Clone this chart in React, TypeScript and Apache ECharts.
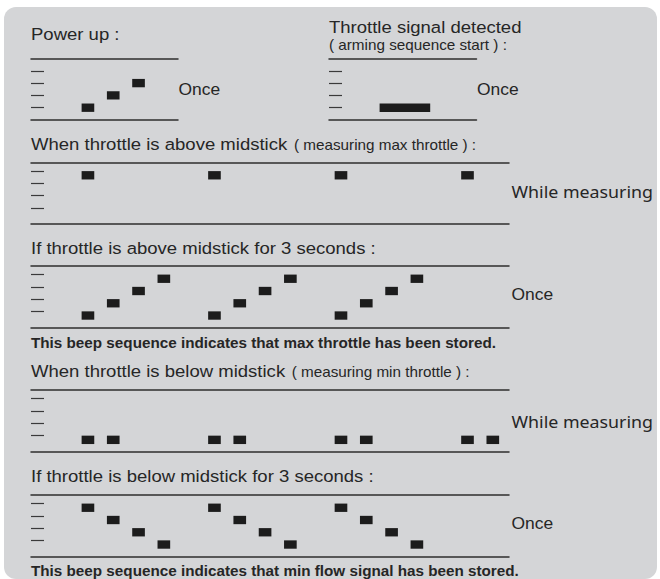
import React, { useEffect, useRef } from "react";
import * as echarts from "echarts";

// ---- Data: beeps as [start slot, end slot, pitch level] ----
const powerUpBeeps = [
  [2, 2.5, 1],
  [3, 3.5, 2],
  [4, 4.5, 3],
];
const armingBeeps = [[2, 4, 1]];
const maxMeasuringBeeps = [
  [2, 2.5, 4],
  [7, 7.5, 4],
  [12, 12.5, 4],
  [17, 17.5, 4],
];
const maxStoredBeeps = [
  [2, 2.5, 1], [3, 3.5, 2], [4, 4.5, 3], [5, 5.5, 4],
  [7, 7.5, 1], [8, 8.5, 2], [9, 9.5, 3], [10, 10.5, 4],
  [12, 12.5, 1], [13, 13.5, 2], [14, 14.5, 3], [15, 15.5, 4],
];
const minMeasuringBeeps = [
  [2, 2.5, 1], [3, 3.5, 1],
  [7, 7.5, 1], [8, 8.5, 1],
  [12, 12.5, 1], [13, 13.5, 1],
  [17, 17.5, 1], [18, 18.5, 1],
];
const minStoredBeeps = [
  [2, 2.5, 4], [3, 3.5, 3], [4, 4.5, 2], [5, 5.5, 1],
  [7, 7.5, 4], [8, 8.5, 3], [9, 9.5, 2], [10, 10.5, 1],
  [12, 12.5, 4], [13, 13.5, 3], [14, 14.5, 2], [15, 15.5, 1],
];
const pitchLevels = [1, 2, 3, 4];

const titleTexts = [
  "Power up :",
  "Throttle signal detected",
  "When throttle is above midstick",
  "If throttle is above midstick for 3 seconds :",
  "When throttle is below midstick",
  "If throttle is below midstick for 3 seconds :",
];
const noteTexts = [
  "( arming sequence start ) :",
  "( measuring max throttle ) :",
  "( measuring min throttle ) :",
];
const boldTexts = [
  "This beep sequence indicates that max throttle has been stored.",
  "This beep sequence indicates that min flow signal has been stored.",
];
const repeatTexts = ["Once", "Once", "While measuring", "Once", "While measuring", "Once"];

// ---- Layout ----
const TEXT_COLOR = "#262626";
const LINE_COLOR = "#2e2e2e";
const BEEP_COLOR = "#1c1c1c";
const SX = 1.09;
const MAIN_FONT = "'Liberation Sans', Arial, sans-serif";

const panels = [
  { left: 31, top: 58.5, width: 147, height: 61.5, xMax: 5.81, yMin: 0, yMax: 5, beepTop: 0.34, data: powerUpBeeps },
  { left: 329, top: 58.5, width: 147.5, height: 61.5, xMax: 5.83, yMin: 0, yMax: 5, beepTop: 0.34, data: armingBeeps },
  { left: 31, top: 162.5, width: 478, height: 61.5, xMax: 18.89, yMin: -0.3, yMax: 4.7, beepTop: 0, data: maxMeasuringBeeps },
  { left: 31, top: 266, height: 61.3, width: 478, xMax: 18.89, yMin: -0.3, yMax: 4.7, beepTop: 0, data: maxStoredBeeps },
  { left: 31, top: 390, height: 61.7, width: 478, xMax: 18.89, yMin: -0.3, yMax: 4.7, beepTop: 0, data: minMeasuringBeeps },
  { left: 31, top: 495, height: 61.3, width: 478, xMax: 18.89, yMin: -0.3, yMax: 4.7, beepTop: 0, data: minStoredBeeps },
];
const BEEP_H = 0.68;

const titlePos = [
  [31, 34.2], [329, 27], [31, 144.5], [31, 248.2], [31, 371.3], [31, 476.7],
];
const notePos = [
  [329, 44.8], [294, 145.6], [291.7, 372.4],
];
const boldPos = [[31, 343.3], [31, 571.7]];
const repeatPos = [
  [178.5, 89.5], [477, 89.5], [511.5, 192], [511.5, 294.5], [511.5, 422], [511.5, 524],
];

function txt(text: string, x: number, y: number, fontSize: number, opts: any = {}) {
  return {
    type: "text",
    x,
    y,
    scaleX: opts.scaleX ?? SX,
    z: 10,
    style: {
      text,
      fontSize,
      fontFamily: opts.fontFamily ?? MAIN_FONT,
      fontWeight: opts.fontWeight ?? "normal",
      fill: TEXT_COLOR,
      verticalAlign: "middle",
      align: "left",
    },
  };
}

export default function App() {
  const ref = useRef<HTMLDivElement>(null);
  useEffect(() => {
    if (!ref.current) return;
    const chart = echarts.init(ref.current, undefined, { renderer: "svg" });

    const grid: any[] = [];
    const xAxis: any[] = [];
    const yAxis: any[] = [];
    const series: any[] = [];

    panels.forEach((p, i) => {
      grid.push({ left: p.left, top: p.top, width: p.width, height: p.height, containLabel: false });
      const baseX = {
        gridIndex: i,
        type: "value",
        min: 0,
        max: p.xMax,
        axisLabel: { show: false },
        axisTick: { show: false },
        splitLine: { show: false },
        axisLine: { show: true, onZero: false, lineStyle: { color: LINE_COLOR, width: 1.5 } },
      };
      xAxis.push({ ...baseX, position: "bottom" });
      xAxis.push({ ...baseX, position: "top" });
      yAxis.push({
        gridIndex: i,
        type: "value",
        min: p.yMin,
        max: p.yMax,
        axisLine: { show: false, onZero: false },
        axisLabel: { show: false },
        splitLine: { show: false },
        axisTick: {
          show: true,
          inside: true,
          length: 13,
          customValues: pitchLevels,
          lineStyle: { color: "#3a3a3a", width: 1.2 },
        },
      });
      const top = p.beepTop;
      series.push({
        type: "custom",
        xAxisIndex: i * 2,
        yAxisIndex: i,
        data: p.data,
        renderItem: (params: any, api: any) => {
          const s = api.value(0);
          const e = api.value(1);
          const lv = api.value(2);
          const p0 = api.coord([s, lv + top]);
          const p1 = api.coord([e, lv + top - BEEP_H]);
          return {
            type: "rect",
            shape: { x: p0[0], y: p0[1], width: p1[0] - p0[0], height: p1[1] - p0[1] },
            style: { fill: BEEP_COLOR },
          };
        },
      });
    });

    const graphic: any[] = [
      {
        type: "rect",
        z: -5,
        shape: { x: 4, y: 7, width: 653, height: 572, r: 12 },
        style: { fill: "#d4d5d7" },
      },
    ];
    titleTexts.forEach((t, i) => graphic.push(txt(t, titlePos[i][0], titlePos[i][1], 17)));
    noteTexts.forEach((t, i) => graphic.push(txt(t, notePos[i][0], notePos[i][1], 14)));
    boldTexts.forEach((t, i) => graphic.push(txt(t, boldPos[i][0], boldPos[i][1], 14, { fontWeight: "bold" })));
    repeatTexts.forEach((t, i) => {
      if (t === "While measuring") {
        graphic.push(txt(t, repeatPos[i][0], repeatPos[i][1], 16.5, { fontFamily: "'Noto Sans', 'Open Sans', sans-serif", scaleX: 1.08 }));
      } else {
        graphic.push(txt(t, repeatPos[i][0], repeatPos[i][1], 16));
      }
    });

    chart.setOption({
      animation: false,
      backgroundColor: "#ffffff",
      grid,
      xAxis,
      yAxis,
      series,
      graphic,
    });
    return () => chart.dispose();
  }, []);
  return (
    <div
      ref={ref}
      style={{ position: "fixed", left: 0, top: 0, width: 660, height: 579 }}
    />
  );
}
